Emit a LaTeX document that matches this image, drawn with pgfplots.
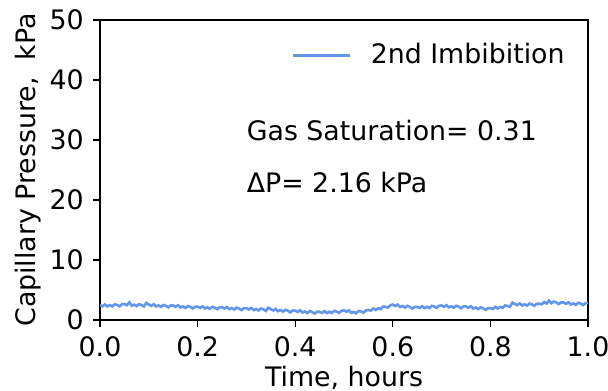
\documentclass[border=0pt]{standalone}
\usepackage{fontspec}
\setmainfont{DejaVu Sans}
\usepackage{pgfplots}
\pgfplotsset{compat=1.18}
\definecolor{cblue}{HTML}{6495ED}
\begin{document}
\fontsize{13.4}{16}\selectfont
\begin{tikzpicture}
\useasboundingbox (-50pt,-35pt) rectangle (254pt,160pt);
\begin{axis}[
  at={(0,0)}, anchor=south west, scale only axis,
  width=244pt, height=150pt,
  xmin=0, xmax=1, ymin=0, ymax=50,
  xtick={0,0.2,0.4,0.6,0.8,1.0},
  ytick={0,10,20,30,40,50},
  /pgf/number format/assume math mode=true,
  xticklabel style={/pgf/number format/.cd, fixed, fixed zerofill, precision=1},
  tick align=outside, tick pos=left,
  major tick length=3.5pt,
  every tick/.style={black, line width=0.6pt},
  axis line style={line width=0.6pt},
  xlabel={Time, hours},
  ylabel={Capillary Pressure,\ \ kPa},
  xlabel style={at={(axis description cs:0.5,-0.193)}, anchor=center},
  ylabel style={at={(axis description cs:-0.1475,0.5)}, anchor=center},
  legend style={draw=none, fill=none, at={(axis description cs:0.393,0.881)}, anchor=west, inner sep=0pt, legend cell align=left},
  legend image code/.code={\draw[#1] (0pt,0pt) -- (28.5pt,0pt); \path (36pt,0pt);},
]
\addplot[cblue, line width=1.3pt] coordinates {
(0.000,2.47)(0.005,2.29)(0.010,2.59)(0.015,2.26)(0.020,2.48)(0.025,2.27)(0.030,2.62)(0.035,2.51)(0.040,2.29)(0.045,2.63)
(0.050,2.67)(0.055,2.46)(0.060,2.95)(0.065,2.37)(0.070,2.56)(0.075,2.32)(0.080,2.64)(0.085,2.50)(0.090,2.25)(0.095,2.85)
(0.100,2.57)(0.105,2.36)(0.110,2.62)(0.115,2.26)(0.120,2.44)(0.125,2.20)(0.130,2.51)(0.135,2.37)(0.140,2.11)(0.145,2.42)
(0.150,2.42)(0.155,2.20)(0.160,2.46)(0.165,2.09)(0.170,2.27)(0.175,2.02)(0.180,2.33)(0.185,2.18)(0.190,1.92)(0.195,2.22)
(0.200,2.22)(0.205,2.01)(0.210,2.28)(0.215,1.92)(0.220,2.11)(0.225,1.87)(0.230,2.19)(0.235,2.05)(0.240,1.80)(0.245,2.11)
(0.250,2.12)(0.255,1.91)(0.260,2.17)(0.265,1.81)(0.270,1.99)(0.275,1.75)(0.280,2.06)(0.285,1.92)(0.290,1.66)(0.295,1.97)
(0.300,1.97)(0.305,1.76)(0.310,2.02)(0.315,1.66)(0.320,1.84)(0.325,1.60)(0.330,1.91)(0.335,1.77)(0.340,1.51)(0.345,2.05)
(0.350,1.82)(0.355,1.60)(0.360,1.85)(0.365,1.48)(0.370,1.65)(0.375,1.40)(0.380,1.70)(0.385,1.55)(0.390,1.28)(0.395,1.58)
(0.400,1.57)(0.405,1.35)(0.410,1.61)(0.415,1.24)(0.420,1.42)(0.425,1.17)(0.430,1.48)(0.435,1.33)(0.440,1.07)(0.445,1.37)
(0.450,1.37)(0.455,1.19)(0.460,1.49)(0.465,1.16)(0.470,1.38)(0.475,1.17)(0.480,1.52)(0.485,1.41)(0.490,1.19)(0.495,1.53)
(0.500,1.62)(0.505,1.37)(0.510,1.60)(0.515,1.20)(0.520,1.35)(0.525,1.12)(0.530,1.50)(0.535,1.42)(0.540,1.23)(0.545,1.60)
(0.550,1.67)(0.555,1.56)(0.560,1.93)(0.565,1.67)(0.570,1.96)(0.575,1.82)(0.580,2.24)(0.585,2.20)(0.590,2.05)(0.595,2.46)
(0.600,2.57)(0.605,2.33)(0.610,2.57)(0.615,2.18)(0.620,2.34)(0.625,2.07)(0.630,2.36)(0.635,2.19)(0.640,1.91)(0.645,2.19)
(0.650,2.17)(0.655,2.00)(0.660,2.30)(0.665,1.98)(0.670,2.20)(0.675,2.00)(0.680,2.35)(0.685,2.25)(0.690,2.03)(0.695,2.38)
(0.700,2.42)(0.705,2.21)(0.710,2.47)(0.715,2.11)(0.720,2.29)(0.725,2.05)(0.730,2.36)(0.735,2.22)(0.740,1.96)(0.745,2.27)
(0.750,2.27)(0.755,2.04)(0.760,2.29)(0.765,1.91)(0.770,2.08)(0.775,1.82)(0.780,2.12)(0.785,1.96)(0.790,1.69)(0.795,1.98)
(0.800,1.97)(0.805,1.84)(0.810,2.19)(0.815,1.91)(0.820,2.18)(0.825,2.02)(0.830,2.42)(0.835,2.36)(0.840,2.19)(0.845,2.90)
(0.850,2.67)(0.855,2.48)(0.860,2.76)(0.865,2.42)(0.870,2.62)(0.875,2.40)(0.880,2.73)(0.885,2.61)(0.890,2.37)(0.895,2.70)
(0.900,2.72)(0.905,2.62)(0.910,3.00)(0.915,2.75)(0.920,3.25)(0.925,2.79)(0.930,3.08)(0.935,2.92)(0.940,2.65)(0.945,2.93)
(0.950,2.92)(0.955,2.70)(0.960,2.96)(0.965,2.59)(0.970,2.77)(0.975,2.52)(0.980,2.87)(0.985,2.74)(0.990,2.49)(0.995,2.80)
(1.000,2.82)
};
\addlegendentry{2nd Imbibition}
\node[anchor=base west, inner sep=0pt] at (axis cs:0.3,30) {Gas Saturation= 0.31};
\node[anchor=base west, inner sep=0pt] at (axis cs:0.3,21.3) {ΔP= 2.16 kPa};
\end{axis}
\end{tikzpicture}
\end{document}
